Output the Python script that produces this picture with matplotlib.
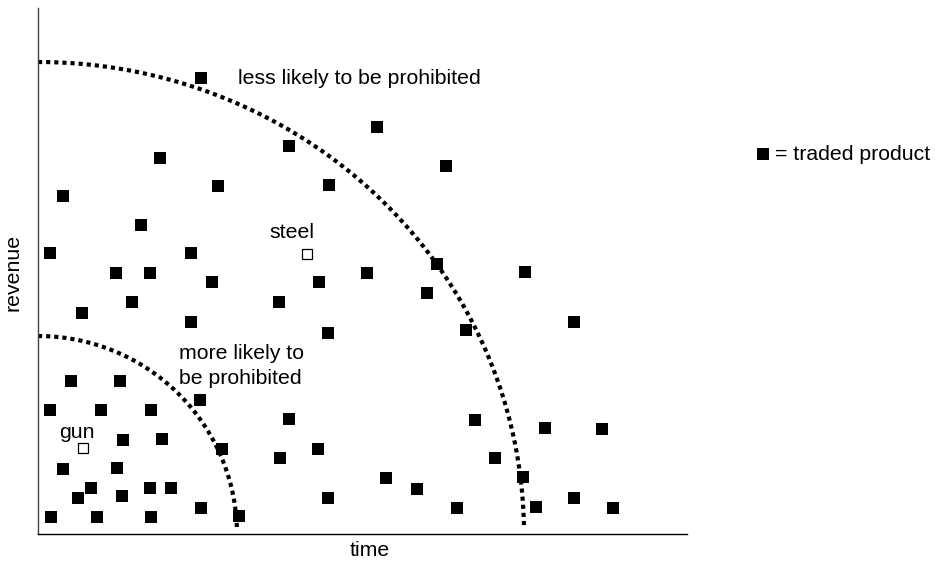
import numpy as np
import matplotlib
matplotlib.use("Agg")
import matplotlib.pyplot as plt

plt.rcParams['font.family'] = ['Liberation Sans', 'DejaVu Sans']

W, H = 935, 565
X0, Y0 = 38, 534  # axis origin in pixels

# traded products (time, revenue)
time_vals = [163, 339, 251, 122, 408, 180, 291, 25, 103, 12, 153, 78, 112, 174,
             329, 399, 487, 281, 94, 241, 389, 44, 153, 290, 428, 536, 33, 82,
             162, 12, 63, 113, 251, 437, 507, 564, 85, 124, 184, 280, 242, 457,
             25, 79, 53, 112, 133, 348, 379, 485, 40, 84, 290, 536, 163, 419,
             498, 575, 13, 59, 113, 201]
revenue_vals = [456, 407, 388, 376, 368, 348, 349, 338, 309, 281, 281, 261, 261, 252,
                261, 270, 262, 252, 232, 232, 241, 221, 212, 201, 204, 212, 153, 153,
                134, 124, 124, 124, 115, 114, 106, 105, 94, 95, 85, 85, 76, 76,
                65, 66, 46, 46, 46, 56, 45, 57, 36, 38, 36, 36, 26, 26,
                27, 26, 17, 17, 17, 18]

special_names = ["gun", "steel"]
special_time = [45, 269]
special_revenue = [86, 280]

# boundary curves (semi-axes along time, revenue)
outer_axes = (486, 472)
inner_axes = (199, 198)

fig = plt.figure(figsize=(W / 100, H / 100), dpi=100)
ax = fig.add_axes([X0 / W, (H - Y0) / H, (687 - X0) / W, (Y0 - 8) / H])
ax.set_xlim(0, 687 - X0)
ax.set_ylim(0, Y0 - 8)
for s in ['top', 'right']:
    ax.spines[s].set_visible(False)
ax.spines['left'].set_color('#444444')
ax.spines['left'].set_linewidth(1.0)
ax.spines['bottom'].set_color('black')
ax.spines['bottom'].set_linewidth(1.0)
ax.set_xticks([])
ax.set_yticks([])

t_out = np.linspace(0, np.deg2rad(89.3), 300)
ax.plot(outer_axes[0] * np.sin(t_out), outer_axes[1] * np.cos(t_out),
        color='black', lw=3.0, linestyle=(0, (1, 0.95)), dash_capstyle='butt',
        clip_on=False, zorder=2)
t_in = np.linspace(0, np.deg2rad(89.0), 200)
ax.plot(inner_axes[0] * np.sin(t_in), inner_axes[1] * np.cos(t_in),
        color='black', lw=3.0, linestyle=(0, (1, 0.95)), dash_capstyle='butt',
        clip_on=False, zorder=2)

ax.plot(time_vals, revenue_vals, linestyle='none', marker='s', markersize=8.6,
        markerfacecolor='black', markeredgecolor='black', markeredgewidth=0,
        clip_on=False, zorder=3)
ax.plot(special_time, special_revenue, linestyle='none', marker='s', markersize=7,
        markerfacecolor='white', markeredgecolor='black', markeredgewidth=0.9,
        clip_on=False, zorder=3)

fs = 15.3
ax.text(special_time[0] - 6, special_revenue[0] + 15, special_names[0], fontsize=fs,
        ha='center', va='center')
ax.text(special_time[1] - 15, special_revenue[1] + 21, special_names[1], fontsize=fs,
        ha='center', va='center')

ax.text(238 - X0, Y0 - 78, "less likely to be prohibited", fontsize=fs,
        ha='left', va='center')
ax.text(179 - X0, Y0 - 366, "more likely to\nbe prohibited", fontsize=fs,
        ha='left', va='center', linespacing=1.38)

fig.text(13 / W, 1 - 272 / H, "revenue", fontsize=fs, rotation=90,
         ha='center', va='center')
fig.text(370 / W, 1 - 551 / H, "time", fontsize=fs, ha='center', va='center')

fig.text(775 / W, 1 - 154 / H, "= traded product", fontsize=fs, ha='left', va='center')
fig.add_artist(plt.Line2D([763 / W], [1 - 154 / H], marker='s', markersize=8.3,
                          markerfacecolor='black', markeredgewidth=0,
                          transform=fig.transFigure))

fig.savefig("out.png", dpi=100)
